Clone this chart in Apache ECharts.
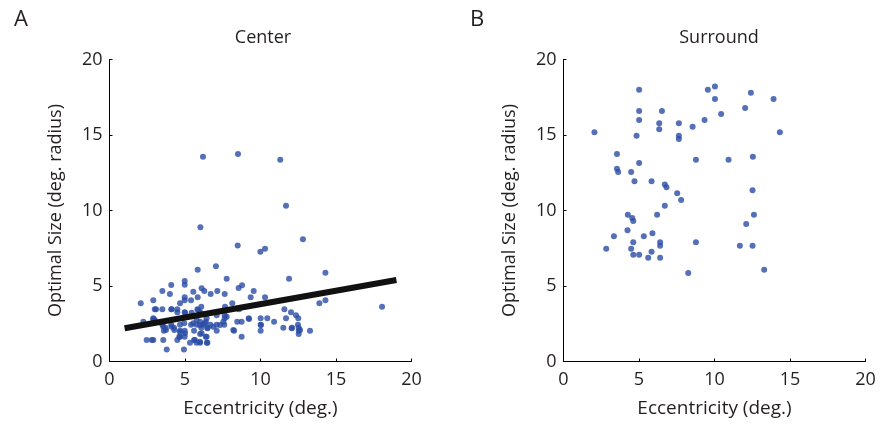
<!DOCTYPE html>
<html>
<head>
<meta charset="utf-8">
<script src="https://cdn.jsdelivr.net/npm/echarts@6/dist/echarts.min.js"></script>
<style>
html,body{margin:0;padding:0;background:#fff;}
#chart{width:883px;height:432px;}
</style>
</head>
<body>
<div id="chart"></div>
<script>
// ---- Data ----
const centerX = [6.19,8.51,11.31,11.69,6.02,8.49,12.81,9.99,10.3,5.84,7.05,7.76,14.3,11.89,
  4.98,4.98,4.09,3.5,4.0,6.28,6.7,7.14,7.63,8.55,8.78,9.55,9.35,10.3,5.84,4.98,4.98,5.4,4.67,2.9,2.07,8.13,13.9,14.3,18.05,5.55,6.1,
  3.0,3.5,4.09,4.49,4.49,4.98,5.82,6.08,6.0,5.44,5.88,7.65,
  11.58,12.02,12.35,12.5,8.58,7.63,7.63,9.22,10.01,10.45,11.69,10.9,10.01,12.48,11.51,12.09,12.53,13.28,12.53,12.53,10.01,8.25,8.75,8.46,8.75,7.76,7.1,
  2.24,2.9,3.0,3.5,3.72,3.6,4.09,4.27,4.67,4.67,4.62,4.49,4.98,4.98,5.4,5.6,5.77,6.0,6.08,6.2,6.38,6.5,6.68,6.38,6.0,5.6,5.33,5.77,6.0,6.45,7.1,7.1,7.6,
  2.46,2.8,2.9,3.56,3.79,4.93,
  3.56,4.12,4.95,5.0,5.55,5.77,6.32,6.43,6.87,7.32,7.54,6.48,8.2,6.1,6.43,4.67,5.66,5.99,6.48,
  3.08,4.12,5.0,5.99,2.9,3.74,4.29,4.67,5.99,9.24,10.03,12.62,12.06];
const centerY = [13.56,13.74,13.36,10.32,8.89,7.69,8.09,7.27,7.47,6.08,6.3,5.48,5.88,5.48,
  5.33,5.09,5.07,4.67,4.47,4.67,4.47,4.67,4.47,4.87,5.05,4.67,4.25,4.25,4.25,4.25,4.05,4.05,3.85,4.05,3.85,3.85,3.85,4.05,3.63,4.62,4.85,
  3.46,3.46,3.46,3.46,3.26,3.26,3.46,3.63,3.26,3.23,3.41,3.63,
  3.46,3.26,3.06,2.86,3.46,3.06,2.86,2.86,2.86,2.86,2.86,2.64,2.44,2.44,2.24,2.24,2.24,2.04,2.04,1.82,2.04,2.04,1.64,2.64,2.64,2.97,3.06,
  2.64,2.86,2.75,2.44,2.24,2.04,2.44,2.24,2.44,2.04,1.64,1.42,1.64,2.04,2.44,2.04,2.44,2.64,2.24,2.44,2.64,2.24,2.44,1.64,1.82,1.42,1.25,1.25,1.25,1.25,2.04,2.44,2.44,
  1.42,1.42,1.42,1.42,0.8,0.8,
  2.3,2.3,2.53,1.87,2.53,2.75,2.53,2.86,2.3,2.42,2.64,2.2,2.09,1.87,1.64,1.64,1.42,1.31,1.25,
  3.46,3.46,3.23,3.19,2.79,2.09,2.09,1.97,2.42,2.81,2.42,2.09,2.2];
const fitX = [1.0, 19.0];
const fitY = [2.2, 5.4];

const surroundX = [5.01,9.56,10.03,10.03,12.41,13.91,12.03,10.44,5.01,6.52,5.01,9.34,6.34,7.64,8.55,6.34,2.05,14.33,4.84,7.64,7.64,
  3.54,8.77,10.93,12.54,5.01,3.54,3.62,4.48,4.7,5.83,6.71,6.82,7.53,7.79,12.52,6.71,
  4.26,6.2,12.61,4.55,4.62,12.1,4.24,3.34,5.32,5.89,4.62,6.4,6.4,8.77,11.68,12.52,2.83,4.48,4.62,5.01,5.83,5.61,6.4,8.26,13.29];
const surroundY = [18.0,18.0,18.22,17.38,17.8,17.38,16.79,16.39,16.59,16.59,15.99,15.99,15.77,15.77,15.55,15.38,15.18,15.18,14.95,14.95,14.74,
  13.74,13.36,13.36,13.56,13.15,12.77,12.55,12.55,11.93,11.93,11.73,11.54,11.14,10.7,11.34,10.32,
  9.72,9.72,9.72,9.5,9.3,9.1,8.69,8.29,8.29,8.49,7.89,7.89,7.67,7.89,7.67,7.67,7.47,7.47,7.07,7.07,7.27,6.87,6.87,5.86,6.08];

const xTicks = [0, 5, 10, 15, 20];
const yTicks = [0, 5, 10, 15, 20];
const titles = ['Center', 'Surround'];
const panelLetters = ['A', 'B'];
const xName = 'Eccentricity (deg.)';
const yName = 'Optimal Size (deg. radius)';

// ---- Chart ----
const FONT = 'Open Sans';
const TXT = '#231f20';
const DOT = '#2a4ca5';

function pairs(xs, ys){ return xs.map((x,i)=>[x, ys[i]]); }

function xAxis(gi){
  return {
    type:'value', gridIndex:gi, min:xTicks[0], max:xTicks[xTicks.length-1], interval:5,
    name:xName, nameLocation:'middle', nameGap:38,
    nameTextStyle:{fontFamily:FONT, fontSize:19, color:TXT},
    axisLine:{show:true, onZero:false, lineStyle:{color:'#000', width:1}},
    axisTick:{show:true, inside:true, length:3, lineStyle:{color:'#000'}},
    axisLabel:{fontFamily:FONT, fontSize:18, color:TXT, margin:9},
    splitLine:{show:false}
  };
}
function yAxis(gi){
  return {
    type:'value', gridIndex:gi, min:yTicks[0], max:yTicks[yTicks.length-1], interval:5,
    name:yName, nameLocation:'middle', nameGap:45,
    nameTextStyle:{fontFamily:FONT, fontSize:18, color:TXT},
    axisLine:{show:true, onZero:false, lineStyle:{color:'#000', width:1}},
    axisTick:{show:true, inside:true, length:3, lineStyle:{color:'#000'}},
    axisLabel:{fontFamily:FONT, fontSize:18, color:TXT, margin:7},
    splitLine:{show:false}
  };
}

const chart = echarts.init(document.getElementById('chart'), null, {renderer:'canvas'});
chart.setOption({
  backgroundColor:'#fff',
  animation:false,
  title:[
    {text:titles[0], left:258, top:24, textAlign:'center',
     textStyle:{fontFamily:FONT, fontSize:18, fontWeight:'normal', color:TXT}},
    {text:titles[1], left:714, top:24, textAlign:'center',
     textStyle:{fontFamily:FONT, fontSize:18, fontWeight:'normal', color:TXT}},
    {text:panelLetters[0], left:9, top:4,
     textStyle:{fontFamily:FONT, fontSize:22, fontWeight:'normal', color:TXT}},
    {text:panelLetters[1], left:465, top:4,
     textStyle:{fontFamily:FONT, fontSize:22, fontWeight:'normal', color:TXT}}
  ],
  grid:[
    {left:109.5, top:59.5, width:302, height:302},
    {left:563.5, top:59.5, width:302, height:302}
  ],
  xAxis:[xAxis(0), xAxis(1)],
  yAxis:[yAxis(0), yAxis(1)],
  series:[
    {type:'scatter', xAxisIndex:0, yAxisIndex:0, data:pairs(centerX, centerY),
     symbol:'circle', symbolSize:6, itemStyle:{color:DOT}, z:2},
    {type:'line', xAxisIndex:0, yAxisIndex:0, data:pairs(fitX, fitY),
     symbol:'none', lineStyle:{color:'#111', width:6, cap:'butt'}, z:3},
    {type:'scatter', xAxisIndex:1, yAxisIndex:1, data:pairs(surroundX, surroundY),
     symbol:'circle', symbolSize:6, itemStyle:{color:DOT}, z:2}
  ]
});
</script>
</body>
</html>
